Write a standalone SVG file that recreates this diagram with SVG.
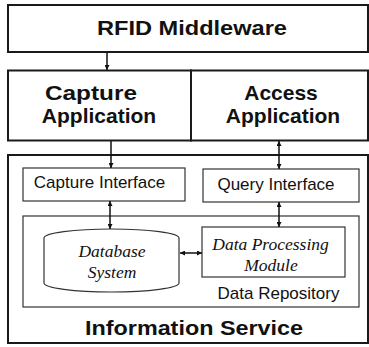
<svg xmlns="http://www.w3.org/2000/svg" width="369" height="347" viewBox="0 0 369 347">
<style>
.outer{fill:none;stroke:#1a1a1a;stroke-width:2}
.inner{fill:none;stroke:#333;stroke-width:1.2}
.big{font-family:"Liberation Sans",Arial,sans-serif;font-weight:bold;font-size:21px;fill:#111;text-anchor:middle}
.mid{font-family:"Liberation Sans",Arial,sans-serif;font-size:17px;fill:#111;text-anchor:middle}
.it{font-family:"Liberation Serif","Times New Roman",serif;font-style:italic;font-size:17.5px;fill:#111;text-anchor:middle}
.conn{stroke:#111;stroke-width:1.5;fill:none}
</style>
<defs>
<marker id="ah" viewBox="0 0 10 10" refX="10" refY="5" markerWidth="5" markerHeight="5" markerUnits="userSpaceOnUse" orient="auto-start-reverse">
<path d="M0,0 L10,5 L0,10 Z" fill="#111"/>
</marker>
</defs>
<rect width="369" height="347" fill="#fff"/>
<g id="rfid-middleware">
<rect class="outer" x="8" y="5" width="360" height="47"/>
<text class="big" x="192" y="35" textLength="190" lengthAdjust="spacingAndGlyphs">RFID Middleware</text>
</g>
<g id="capture-application">
<rect class="outer" x="8" y="70.5" width="183" height="70"/>
<text class="big" x="91" y="100" textLength="92" lengthAdjust="spacingAndGlyphs">Capture</text>
<text class="big" x="99" y="123">Application</text>
</g>
<g id="access-application">
<rect class="outer" x="191" y="70.5" width="177" height="70"/>
<text class="big" x="281" y="100">Access</text>
<text class="big" x="283" y="123">Application</text>
</g>
<g id="information-service">
<rect class="outer" x="8" y="155" width="360" height="188"/>
<text class="big" x="194" y="335" textLength="218" lengthAdjust="spacingAndGlyphs">Information Service</text>
</g>
<g id="capture-interface">
<rect class="inner" x="23" y="168" width="162" height="33"/>
<text class="mid" x="99.5" y="188">Capture Interface</text>
</g>
<g id="query-interface">
<rect class="inner" x="203" y="169" width="156" height="33"/>
<text class="mid" x="276" y="190">Query Interface</text>
</g>
<g id="data-repository">
<rect class="inner" x="23" y="216" width="336" height="91"/>
<text class="mid" x="278.5" y="299">Data Repository</text>
</g>
<g id="database-system">
<path class="inner" fill="#fff" d="M44,238 A67.5,9 0 0 1 179,238 L179,283 A67.5,9 0 0 1 44,283 Z"/>
<text class="it" x="112" y="257">Database</text>
<text class="it" x="112" y="278">System</text>
</g>
<g id="data-processing-module">
<rect class="inner" x="202" y="227" width="143" height="50"/>
<text class="it" x="270.5" y="250">Data Processing</text>
<text class="it" x="271" y="271">Module</text>
</g>
<g id="connectors">
<line class="conn" x1="107" y1="52" x2="107" y2="70" marker-end="url(#ah)"/>
<line class="conn" x1="111" y1="141" x2="111" y2="168" marker-end="url(#ah)"/>
<line class="conn" x1="279" y1="141" x2="279" y2="169" marker-start="url(#ah)" marker-end="url(#ah)"/>
<line class="conn" x1="110" y1="201" x2="110" y2="229" marker-start="url(#ah)" marker-end="url(#ah)"/>
<line class="conn" x1="279" y1="202" x2="279" y2="227" marker-start="url(#ah)" marker-end="url(#ah)"/>
<line class="conn" x1="180" y1="253" x2="202" y2="253" marker-start="url(#ah)" marker-end="url(#ah)"/>
</g>
</svg>
